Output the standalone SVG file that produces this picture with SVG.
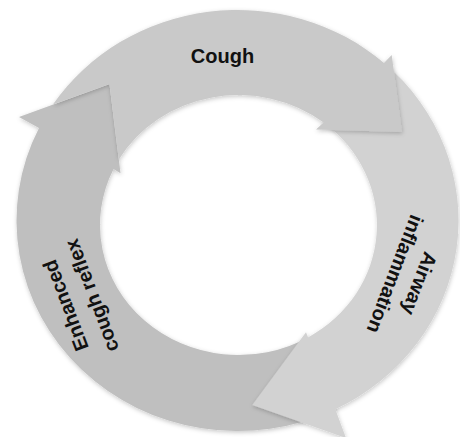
<svg xmlns="http://www.w3.org/2000/svg" width="460" height="437" viewBox="0 0 460 437">
  <defs>
    <filter id="sh" x="-20%" y="-20%" width="140%" height="140%">
      <feDropShadow dx="0.5" dy="1.5" stdDeviation="2" flood-color="#000" flood-opacity="0.22"/>
    </filter>
    <style>
      .cough { fill: #c9c9c9; }
      .airway { fill: #d2d2d2; }
      .enh { fill: #bfbfbf; }
      .shape { filter: url(#sh); }
      .lbl { font-family: "Liberation Sans", Arial, Helvetica, sans-serif; font-weight: bold; font-size: 20px; fill: #111; text-anchor: middle; }
    </style>
  </defs>
  <rect width="460" height="437" fill="#ffffff"/>
  <g id="connectors">
    <path id="arrow-enhanced" class="enh shape" d="M 335.3 409.3 A 221 210.5 0 0 1 39 128 L 19 117 L 109.5 84 L 120.5 173.3 L 113.55 168.9 A 138.5 130 0 0 0 308.05 337.4 Z"/>
    <path id="arrow-airway" class="airway shape" d="M 384 62.9 A 221 210.5 0 0 1 335.3 409.3 L 346 438 L 252.3 405 L 306 332.3 L 308.05 337.4 A 138.5 130 0 0 0 323.6 122.5 Z"/>
    <path id="arrow-cough" class="cough shape" d="M 52.9 104.6 A 221 210.5 0 0 1 384 62.9 L 391.7 55 L 402 132 L 316 129.5 L 323.6 122.5 A 138.5 130 0 0 0 118.8 159.6 L 109.5 84 Z"/>
  </g>
  <g id="node-cough">
    <text class="lbl" x="222.5" y="63">Cough</text>
  </g>
  <g id="node-airway" transform="translate(413,281) rotate(111)">
    <text class="lbl" x="0" y="0">Airway</text>
    <text class="lbl" x="0" y="26">inflammation</text>
  </g>
  <g id="node-enhanced" transform="translate(72,303) rotate(-110.7)">
    <text class="lbl" x="0" y="0">Enhanced</text>
    <text class="lbl" x="0" y="28">cough reflex</text>
  </g>
</svg>
